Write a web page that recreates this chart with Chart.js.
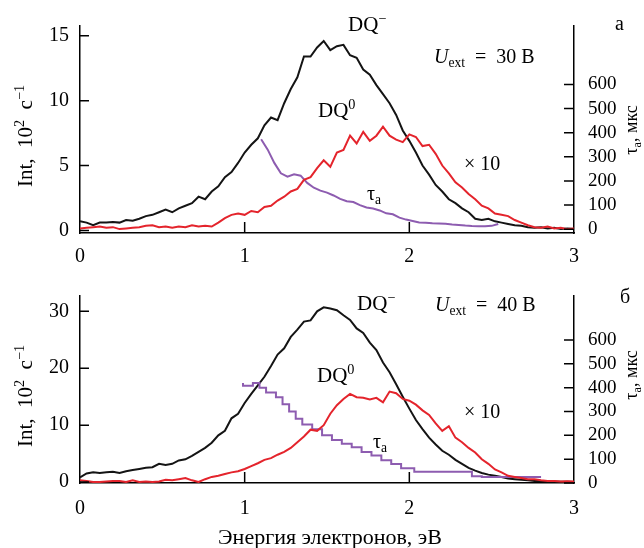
<!DOCTYPE html>
<html>
<head>
<meta charset="utf-8">
<title>DQ spectra</title>
<script src="https://cdn.jsdelivr.net/npm/chart.js"></script>
<style>
  body { margin: 0; background: #fff; }
  canvas { position: absolute; left: 0; }
</style>
</head>
<body>
<canvas id="chartA" width="644" height="270" style="top:0"></canvas>
<canvas id="chartB" width="644" height="278" style="top:270px"></canvas>
<script>
  // energy grid (eV) shared by DQ- and DQ0 curves, 0 .. 3 in 0.04 steps
  const energy = [];
  for (let i = 0; i <= 75; i++) energy.push(+(i * 0.04).toFixed(2));

  // panel a, U_ext = 30 V
  const dqMinusA = [0.7, 0.6, 0.4, 0.6, 0.6, 0.65, 0.6, 0.8, 0.75, 0.9,
    1.1, 1.2, 1.4, 1.6, 1.4, 1.7, 1.9, 2.1, 2.6, 2.4,
    3.0, 3.4, 4.1, 4.5, 5.2, 6.0, 6.6, 7.1, 8.1, 8.7,
    8.5, 9.8, 10.9, 11.8, 13.4, 13.4, 14.1, 14.6, 13.9, 14.2,
    14.3, 13.5, 13.3, 12.4, 12.0, 11.2, 10.5, 9.8, 8.9, 7.7,
    6.9, 6.0, 5.0, 4.3, 3.5, 3.0, 2.4, 2.1, 1.7, 1.4,
    0.9, 0.8, 0.9, 0.7, 0.6, 0.5, 0.4, 0.35, 0.25, 0.2,
    0.25, 0.15, 0.2, 0.1, 0.15, 0.1];
  const dqZeroA = [0.15, 0.2, 0.25, 0.3, 0.2, 0.25, 0.1, 0.15, 0.2, 0.25,
    0.35, 0.4, 0.25, 0.3, 0.2, 0.3, 0.25, 0.4, 0.3, 0.35,
    0.3, 0.6, 0.95, 1.2, 1.3, 1.2, 1.5, 1.4, 1.8, 1.9,
    2.3, 2.6, 3.0, 3.2, 3.9, 4.1, 4.8, 5.4, 4.9, 6.0,
    6.2, 7.3, 6.7, 7.6, 6.9, 7.3, 8.0, 7.3, 7.0, 6.8,
    7.4, 7.2, 6.5, 6.6, 5.9, 5.0, 4.4, 3.7, 3.3, 2.8,
    2.4, 1.9, 1.7, 1.3, 1.2, 1.1, 0.8, 0.6, 0.4, 0.25,
    0.2, 0.3, 0.15, 0.2, 0.1, 0.15];
  const tauEnergyA = [1.10, 1.14, 1.18, 1.22, 1.26, 1.30, 1.34, 1.38, 1.42, 1.46,
    1.50, 1.54, 1.58, 1.62, 1.66, 1.70, 1.74, 1.78, 1.82, 1.86,
    1.90, 1.94, 1.98, 2.02, 2.06, 2.10, 2.14, 2.18, 2.22, 2.26,
    2.30, 2.34, 2.38, 2.42, 2.46, 2.50, 2.54];
  const tauA = [373, 330, 275, 232, 218, 228, 222, 192, 172, 160,
    152, 140, 126, 116, 113, 100, 90, 86, 78, 66,
    62, 48, 40, 34, 28, 27, 25, 24, 23, 20,
    18, 15, 13, 12, 12, 14, 22];

  // panel b, U_ext = 40 V
  const dqMinusB = [0.8, 1.5, 1.7, 1.6, 1.7, 1.8, 1.6, 1.9, 2.1, 2.3,
    2.5, 2.6, 3.2, 3.0, 3.2, 3.8, 4.0, 4.6, 5.3, 6.0,
    6.9, 8.2, 9.0, 11.2, 12.0, 13.9, 15.5, 17.0, 18.5, 20.4,
    22.4, 23.5, 25.5, 26.8, 28.2, 28.4, 30.0, 30.7, 30.5, 30.2,
    29.3, 28.5, 27.0, 26.2, 24.5, 23.2, 21.0, 19.3, 17.2, 15.0,
    12.9, 10.9, 9.3, 7.8, 6.6, 5.5, 4.8, 3.9, 3.2, 2.5,
    2.0, 1.6, 1.3, 1.1, 0.9, 0.6, 0.5, 0.4, 0.3, 0.2,
    0.2, 0.1, 0.1, 0.05, 0.05, 0.0];
  const dqZeroB = [0.3, 0.2, 0.0, 0.0, 0.1, 0.2, 0.2, 0.0, 0.3, 0.0,
    0.1, 0.0, 0.1, 0.4, 0.3, 0.5, 0.7, 0.3, 0.0, 0.5,
    0.9, 1.1, 1.4, 1.7, 1.9, 2.3, 2.8, 3.3, 3.9, 4.2,
    4.8, 5.3, 6.0, 7.0, 8.0, 9.2, 9.0, 10.0, 12.0, 13.5,
    14.6, 15.5, 14.9, 14.8, 14.5, 14.8, 14.0, 15.9, 15.6, 14.6,
    14.3, 13.6, 12.6, 11.8, 10.3, 9.0, 9.8, 7.8, 7.0, 6.0,
    5.2, 4.0, 3.2, 2.2, 1.7, 1.1, 0.9, 0.7, 0.5, 0.5,
    0.3, 0.2, 0.2, 0.1, 0.15, 0.1];
  const tauEnergyB = [0.99, 1.05, 1.09, 1.13, 1.19, 1.23, 1.27, 1.31, 1.35, 1.41,
    1.47, 1.53, 1.59, 1.65, 1.71, 1.77, 1.83, 1.89, 1.95, 2.03,
    2.09, 2.38, 2.44, 2.62, 2.80];
  const tauB = [420, 408, 420, 400, 380, 360, 330, 300, 270, 245,
    225, 200, 180, 165, 150, 130, 115, 95, 80, 62,
    47, 47, 28, 25, 25];

  // tick labels
  const xTicks = [0, 1, 2, 3];
  const intTicksA = [0, 5, 10, 15];
  const intTicksB = [0, 10, 20, 30];
  const tauTicks = [0, 100, 200, 300, 400, 500, 600];

  const SERIF = '"Liberation Serif", "Times New Roman", serif';
  Chart.defaults.font.family = SERIF;
  Chart.defaults.font.size = 20;
  Chart.defaults.color = '#000';

  const BLACK = '#141414';
  const RED = '#e4242c';
  const PURPLE = '#8d5cb0';

  function pairs(xs, ys) {
    return xs.map((x, i) => ({ x: x, y: ys[i] }));
  }

  // draws text made of parts: [text, kind], kind '' | 'i' | 'sup' | 'sub'
  function richText(ctx, x, y, parts, size, align) {
    const fontFor = k => {
      const s = (k === 'sup' || k === 'sub') ? size * 0.68 : size;
      return (k === 'i' ? 'italic ' : '') + s + 'px ' + SERIF;
    };
    let w = 0;
    parts.forEach(([t, k]) => { ctx.font = fontFor(k); w += ctx.measureText(t).width; });
    let cx = align === 'center' ? x - w / 2 : x;
    parts.forEach(([t, k]) => {
      ctx.font = fontFor(k);
      const dy = k === 'sup' ? -size * 0.4 : (k === 'sub' ? size * 0.22 : 0);
      ctx.fillText(t, cx, y + dy);
      cx += ctx.measureText(t).width;
    });
  }

  // inward tick marks + text labels
  const overlay = {
    id: 'overlay',
    afterDraw(chart, args, opts) {
      const ctx = chart.ctx;
      const area = chart.chartArea;
      const sx = chart.scales.x, sy = chart.scales.y, sy1 = chart.scales.y1;
      ctx.save();
      ctx.strokeStyle = '#000';
      ctx.lineWidth = 1.5;
      ctx.beginPath();
      [1, 2].forEach(v => {
        const px = sx.getPixelForValue(v);
        ctx.moveTo(px, area.bottom);
        ctx.lineTo(px, area.bottom - 11);
      });
      sy.ticks.forEach(t => {
        const py = sy.getPixelForValue(t.value);
        ctx.moveTo(area.left, py);
        ctx.lineTo(area.left + 9, py);
      });
      sy1.ticks.forEach(t => {
        const py = sy1.getPixelForValue(t.value);
        ctx.moveTo(area.right, py);
        ctx.lineTo(area.right - 10, py);
      });
      ctx.stroke();

      ctx.fillStyle = '#000';
      ctx.textBaseline = 'alphabetic';
      ctx.textAlign = 'left';
      opts.texts.forEach(t => {
        if (t.rotate) {
          ctx.save();
          ctx.translate(t.x, t.y);
          ctx.rotate(-Math.PI / 2);
          richText(ctx, 0, 0, t.parts, t.size, 'center');
          ctx.restore();
        } else {
          richText(ctx, t.x, t.y, t.parts, t.size, t.align || 'left');
        }
      });
      ctx.restore();
    }
  };

  function axisStyle() {
    return {
      grid: { drawOnChartArea: false, drawTicks: false },
      border: { display: true, color: '#000', width: 1.5 }
    };
  }

  function makeChart(id, cfg) {
    const datasets = [
      { data: pairs(energy, cfg.dqZero), borderColor: RED, yAxisID: 'y', order: 0 },
      { data: pairs(cfg.tauE, cfg.tau), borderColor: PURPLE, yAxisID: 'y1', order: 1, stepped: cfg.stepped },
      { data: pairs(energy, cfg.dqMinus), borderColor: BLACK, yAxisID: 'y', order: 2 }
    ];
    datasets.forEach(d => {
      d.borderWidth = 2;
      d.pointRadius = 0;
      d.tension = 0;
      d.fill = false;
    });
    return new Chart(document.getElementById(id), {
      type: 'line',
      data: { datasets: datasets },
      options: {
        responsive: false,
        animation: false,
        devicePixelRatio: 1,
        layout: { padding: { top: cfg.top, left: 0, right: 0, bottom: 0 } },
        plugins: {
          legend: { display: false },
          tooltip: { enabled: false },
          overlay: { texts: cfg.texts }
        },
        scales: {
          x: Object.assign({
            type: 'linear', min: 0, max: 3,
            afterBuildTicks: s => { s.ticks = xTicks.map(v => ({ value: v })); },
            afterFit: s => { s.height = cfg.xHeight; },
            ticks: { padding: cfg.xPad, maxRotation: 0 }
          }, axisStyle()),
          y: Object.assign({
            position: 'left', min: cfg.intMin, max: cfg.intMax,
            afterBuildTicks: s => { s.ticks = cfg.intTicks.map(v => ({ value: v })); },
            afterFit: s => { s.width = 80; },
            ticks: { padding: 11 }
          }, axisStyle()),
          y1: Object.assign({
            position: 'right', min: cfg.tauMin, max: cfg.tauMax,
            afterBuildTicks: s => { s.ticks = tauTicks.map(v => ({ value: v })); },
            afterFit: s => { s.width = 70; },
            ticks: { padding: 14, font: { size: 19 } }
          }, axisStyle())
        }
      },
      plugins: [overlay]
    });
  }

  const intTitle = [['Int,  10', ''], ['2', 'sup'], ['  с', ''], ['\u22121', 'sup']];
  const tauTitle = [['τ', ''], ['a', 'sub'], [', мкс', '']];

  makeChart('chartA', {
    dqMinus: dqMinusA, dqZero: dqZeroA, tauE: tauEnergyA, tau: tauA, stepped: false,
    intTicks: intTicksA, intMin: -0.2, intMax: 15.8, tauMin: -15.6, tauMax: 845,
    top: 12, xHeight: 37, xPad: 12,
    texts: [
      { x: 348, y: 31, size: 21, parts: [['DQ', ''], ['\u2212', 'sup']] },
      { x: 434, y: 63, size: 20, parts: [['U', 'i'], ['ext', 'sub'], ['  =  30 В', '']] },
      { x: 615, y: 30, size: 20, parts: [['а', '']] },
      { x: 318, y: 117, size: 21, parts: [['DQ', ''], ['0', 'sup']] },
      { x: 464, y: 170, size: 20, parts: [['× 10', '']] },
      { x: 367, y: 200, size: 20, parts: [['τ', ''], ['a', 'sub']] },
      { x: 32, y: 136, size: 21, rotate: true, parts: intTitle },
      { x: 637, y: 130, size: 18, rotate: true, parts: tauTitle }
    ]
  });

  makeChart('chartB', {
    dqMinus: dqMinusB, dqZero: dqZeroB, tauE: tauEnergyB, tau: tauB, stepped: 'after',
    intTicks: intTicksB, intMin: -0.17, intMax: 32.8, tauMin: 0, tauMax: 787,
    top: 15, xHeight: 65, xPad: 14,
    texts: [
      { x: 357, y: 40, size: 21, parts: [['DQ', ''], ['\u2212', 'sup']] },
      { x: 435, y: 41, size: 20, parts: [['U', 'i'], ['ext', 'sub'], ['  =  40 В', '']] },
      { x: 620, y: 33, size: 20, parts: [['б', '']] },
      { x: 317, y: 112, size: 21, parts: [['DQ', ''], ['0', 'sup']] },
      { x: 464, y: 148, size: 20, parts: [['× 10', '']] },
      { x: 373, y: 178, size: 20, parts: [['τ', ''], ['a', 'sub']] },
      { x: 32, y: 126, size: 21, rotate: true, parts: intTitle },
      { x: 637, y: 105, size: 18, rotate: true, parts: tauTitle },
      { x: 330, y: 274, size: 22, align: 'center', parts: [['Энергия электронов, эВ', '']] }
    ]
  });
</script>
</body>
</html>
